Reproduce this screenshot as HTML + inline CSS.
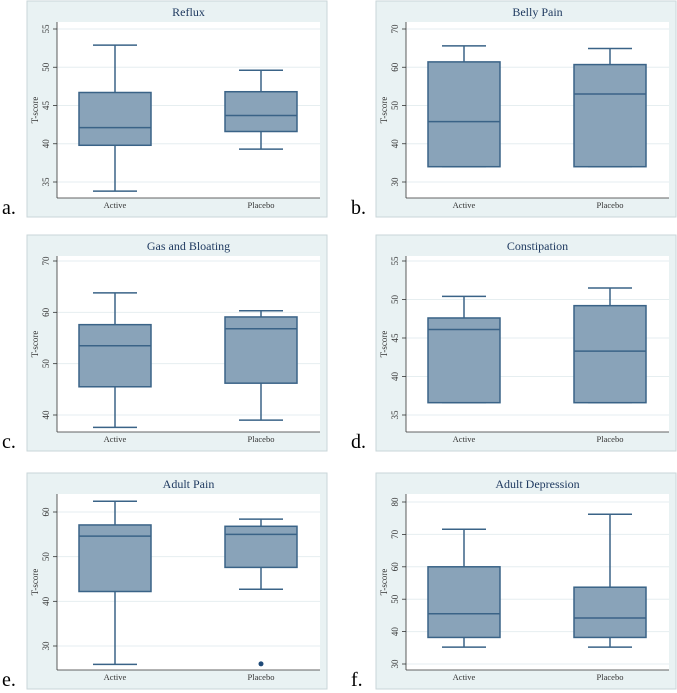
<!DOCTYPE html>
<html><head><meta charset="utf-8"><style>
html,body{margin:0;padding:0;background:#fff;}
svg{display:block;}
text{font-family:"Liberation Serif",serif;}
</style></head><body>
<svg id="fig" width="677" height="693" viewBox="0 0 677 693"></svg>
<script>
const titles = ["Reflux","Belly Pain","Gas and Bloating","Constipation","Adult Pain","Adult Depression"];
const panelLetters = ["a.","b.","c.","d.","e.","f."];
const groups = ["Active","Placebo"];
const yTicks = [[35,40,45,50,55],[30,40,50,60,70],[40,50,60,70],[35,40,45,50,55],[30,40,50,60],[30,40,50,60,70,80]];
// [min, q1, median, q3, max] per group
const activeStats = [[33.8,39.8,42.1,46.7,52.9],[34,34,45.8,61.4,65.6],[37.6,45.5,53.5,57.6,63.8],[36.6,36.6,46.1,47.6,50.4],[25.9,42.2,54.6,57.1,62.4],[35.2,38.2,45.5,60,71.6]];
const placeboStats = [[39.3,41.6,43.7,46.8,49.6],[34,34,53,60.7,64.9],[39,46.2,56.8,59.1,60.3],[36.6,36.6,43.3,49.2,51.5],[42.7,47.6,55.0,56.8,58.4],[35.2,38.2,44.2,53.7,76.2]];
const outliers = [[[],[]],[[],[]],[[],[]],[[],[]],[[],[26]],[[],[]]];

const NS="http://www.w3.org/2000/svg";
const svg=document.getElementById('fig');
function mk(tag,attrs,parent){const e=document.createElementNS(NS,tag);for(const k in attrs)e.setAttribute(k,attrs[k]);(parent||svg).appendChild(e);return e;}
const frameX=[27,376], frameY=[1,235,473];
const tickOff=[[28,181],[28,181],[26,180],[26,180],[39,173],[29,191]];
const slug=t=>t.toLowerCase().replace(/\s+/g,'-');
titles.forEach((title,i)=>{
  const fx=frameX[i%2], fy=frameY[Math.floor(i/2)];
  const g=mk('g',{});
  
  
  const fr=mk('rect',{x:fx,y:fy,width:300,height:216,fill:'#e9f2f3',stroke:'#c9d6d8','stroke-width':1},g);
  
  const px=fx+30, pt=fy+21, pb=fy+197, pw=263;
  const pa=mk('rect',{x:px,y:pt,width:pw,height:pb-pt,fill:'#fff'},g);
  
  const tks=yTicks[i], lo=tks[0], hi=tks[tks.length-1];
  const yT=fy+tickOff[i][0], yB=fy+tickOff[i][1];
  const Y=v=>yB-(v-lo)*(yB-yT)/(hi-lo);
  tks.forEach(t=>{
    const gl=mk('line',{x1:px,x2:px+pw,y1:Y(t),y2:Y(t),stroke:'#e6eef0','stroke-width':1},g);
    
    mk('line',{x1:px-4,x2:px,y1:Y(t),y2:Y(t),stroke:'#333','stroke-width':0.8},g);
    const tl=mk('text',{x:0,y:0,'font-size':9,fill:'#333','text-anchor':'middle',transform:`translate(${px-8},${Y(t)}) rotate(-90)`},g);
    tl.textContent=t;
  });
  mk('line',{x1:px,x2:px,y1:pt,y2:pb,stroke:'#333','stroke-width':0.8},g);
  mk('line',{x1:px,x2:px+pw,y1:pb,y2:pb,stroke:'#333','stroke-width':0.8},g);
  const yl=mk('text',{x:0,y:0,'font-size':9,fill:'#333','text-anchor':'middle',transform:`translate(${px-19},${(pt+pb)/2}) rotate(-90)`},g);
  yl.textContent='T-score';
  const tt=mk('text',{x:px+pw/2,y:fy+15,'font-size':12,fill:'#1f3a60','text-anchor':'middle'},g);
  tt.textContent=title;
  const lt=mk('text',{x:fx-25,y:fy+213,'font-size':20,fill:'#000'},g);
  lt.textContent=panelLetters[i];
  [activeStats[i],placeboStats[i]].forEach((s,j)=>{
    const cx=px+58+j*146;
    const bg=mk('g',{},g);
    
    
    const st={stroke:'#3a6387','stroke-width':1.5};
    mk('line',Object.assign({x1:cx,x2:cx,y1:Y(s[0]),y2:Y(s[1])},st),bg);
    mk('line',Object.assign({x1:cx,x2:cx,y1:Y(s[3]),y2:Y(s[4])},st),bg);
    mk('line',Object.assign({x1:cx-22,x2:cx+22,y1:Y(s[0]),y2:Y(s[0])},st),bg);
    mk('line',Object.assign({x1:cx-22,x2:cx+22,y1:Y(s[4]),y2:Y(s[4])},st),bg);
    mk('rect',Object.assign({x:cx-36,y:Y(s[3]),width:72,height:Y(s[1])-Y(s[3]),fill:'#89a3b9'},st),bg);
    mk('line',Object.assign({x1:cx-36,x2:cx+36,y1:Y(s[2]),y2:Y(s[2])},st),bg);
    outliers[i][j].forEach(o=>{
      const c=mk('circle',{cx:cx,cy:Y(o),r:2.5,fill:'#1f4a78'},bg);
      
    });
    const xl=mk('text',{x:cx,y:pb+10,'font-size':8.5,fill:'#333','text-anchor':'middle'},g);
    xl.textContent=groups[j];
  });
});
</script>
</body></html>
